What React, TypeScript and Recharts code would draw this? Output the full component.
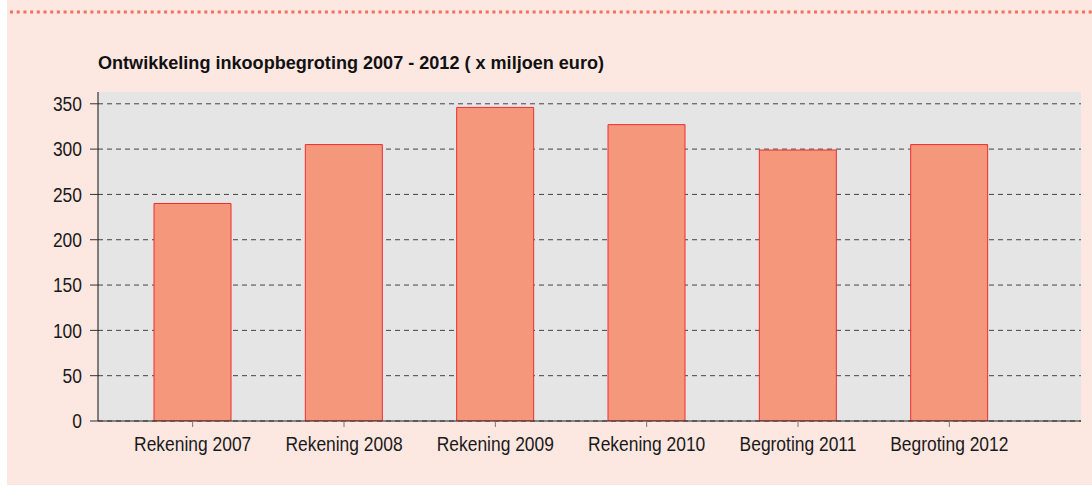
import { BarChart, Bar, XAxis, YAxis, CartesianGrid } from "recharts";

const CATEGORIES = ["Rekening 2007", "Rekening 2008", "Rekening 2009", "Rekening 2010", "Begroting 2011", "Begroting 2012"];
const VALUES = [240, 305, 346, 327, 299, 305];
const Y_TICKS = [0, 50, 100, 150, 200, 250, 300, 350];
const TITLE = "Ontwikkeling inkoopbegroting 2007 - 2012 ( x miljoen euro)";

const data = CATEGORIES.map((name, i) => ({ name, value: VALUES[i] }));

const FONT = "'Liberation Sans', Arial, sans-serif";
const NARROW = 0.85;

// no narrow font installed, so squeeze Liberation Sans
const XTick = ({ x, y, payload }: any) => (
  <g transform={`translate(${x},${y})`}>
    <text transform={`scale(${NARROW},1)`} textAnchor="middle" dy="0.71em" fill="#1a1a1a" fontSize={20.5} fontFamily={FONT}>
      {payload.value}
    </text>
  </g>
);

const YTick = ({ x, y, payload }: any) => (
  <g transform={`translate(${x},${y})`}>
    <text transform={`scale(${NARROW},1)`} textAnchor="end" dy="0.355em" fill="#1a1a1a" fontSize={20.5} fontFamily={FONT}>
      {payload.value}
    </text>
  </g>
);

const App = () => (
  <div style={{ position: "fixed", left: 0, top: 0, width: 1092, height: 486, background: "#fff", overflow: "hidden" }}>
    <div style={{ position: "absolute", left: 7, top: 0, width: 1085, height: 485, background: "#fde7e1" }} />
    <svg style={{ position: "absolute", left: 0, top: 0 }} width={1092} height={80}>
      <line x1={10} y1={12} x2={1092} y2={12} stroke="#f2705f" strokeWidth={3} strokeDasharray="3 3.7" />
      <text
        x={98}
        y={69}
        fontFamily={FONT}
        fontWeight="bold"
        fontSize={18.5}
        fill="#111"
        textLength={506}
        lengthAdjust="spacingAndGlyphs"
      >
        {TITLE}
      </text>
    </svg>
    <div style={{ position: "absolute", left: 0, top: 0 }}>
      <BarChart width={1092} height={486} data={data} margin={{ top: 92, right: 11, bottom: 0, left: 8 }}>
        <CartesianGrid vertical={false} syncWithTicks fill="#e5e5e5" stroke="#444" strokeDasharray="5 4" />
        <XAxis
          dataKey="name"
          height={65}
          padding={{ left: 19, right: 56 }}
          axisLine={{ stroke: "#222" }}
          tickLine={{ stroke: "#777" }}
          tickSize={6}
          tickMargin={9}
          tick={<XTick />}
          interval={0}
        />
        <YAxis
          width={90}
          domain={[0, 363]}
          ticks={Y_TICKS}
          allowDataOverflow
          axisLine={{ stroke: "#111" }}
          tickLine={{ stroke: "#333" }}
          tickSize={8}
          tickMargin={8}
          tick={<YTick />}
        />
        <Bar dataKey="value" fill="#f5977a" stroke="#ee2d33" strokeWidth={1} barSize={77} isAnimationActive={false} />
      </BarChart>
    </div>
  </div>
);

export default App;
